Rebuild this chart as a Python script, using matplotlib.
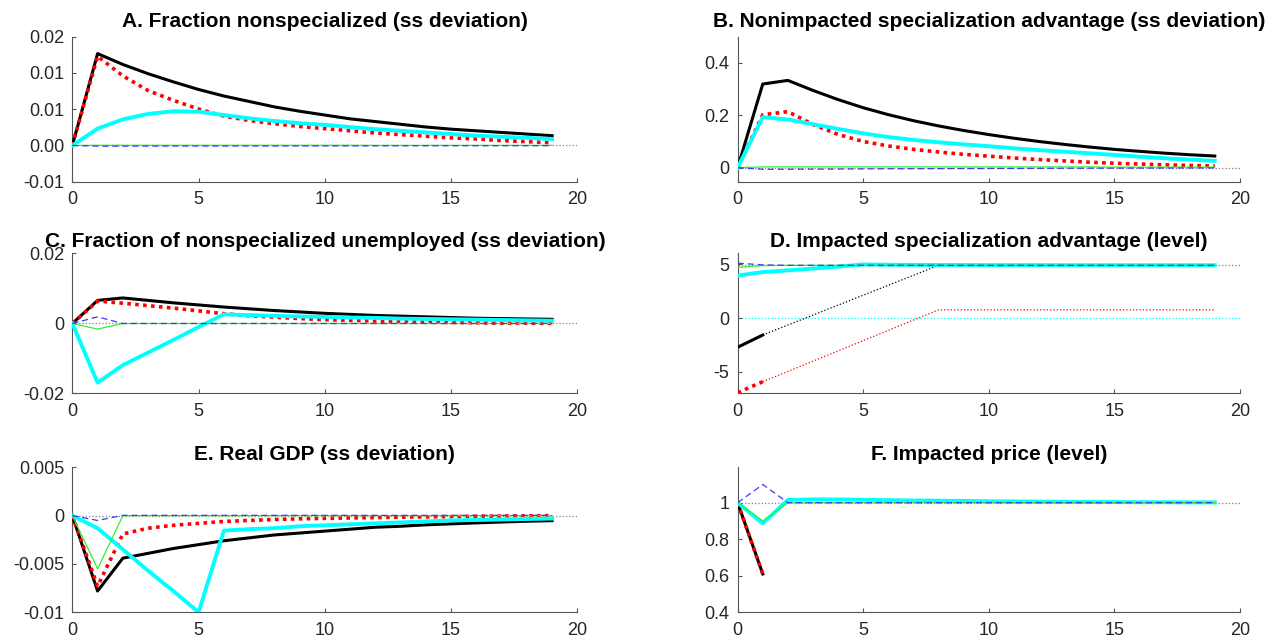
import numpy as np
import matplotlib

matplotlib.use("Agg")
import matplotlib.pyplot as plt

plt.rcParams["font.family"] = ["Liberation Sans", "DejaVu Sans"]

nan = np.nan
periods = list(range(20))

titles = [
    "A. Fraction nonspecialized (ss deviation)",
    "B. Nonimpacted specialization advantage (ss deviation)",
    "C. Fraction of nonspecialized unemployed (ss deviation)",
    "D. Impacted specialization advantage (level)",
    "E. Real GDP (ss deviation)",
    "F. Impacted price (level)",
]

# A. Fraction nonspecialized
a_black = [0, 0.0169, 0.0149, 0.0132, 0.0117, 0.0103, 0.0091, 0.0081, 0.0071, 0.0063,
           0.0056, 0.0049, 0.0044, 0.0039, 0.0034, 0.0030, 0.0027, 0.0024, 0.0021, 0.0018]
a_red = [0, 0.0164, 0.0128, 0.0101, 0.0083, 0.0067, 0.0054, 0.0046, 0.0040, 0.0035,
         0.0031, 0.0027, 0.0023, 0.0020, 0.0017, 0.0014, 0.0012, 0.0009, 0.0007, 0.0005]
a_cyan = [0, 0.0031, 0.0048, 0.0058, 0.0063, 0.0062, 0.0056, 0.0050, 0.0045, 0.0041,
          0.0038, 0.0034, 0.0030, 0.0027, 0.0024, 0.0021, 0.0018, 0.0016, 0.0014, 0.0012]
a_green = [0, 0.00003, 0.00003, 0.00003, 0.00003, 0.00003, 0.00003, 0.00003, 0.00003, 0.00003,
           0.00003, 0.00003, 0.00002, 0.00002, 0.00002, 0.00002, 0.00002, 0.00002, 0.00002, 0.00002]
a_blue = [0, -0.00012, -0.00012, -0.00011, -0.0001, -0.0001, -0.0001, -0.00009, -0.00009, -0.00008,
          -0.00008, -0.00007, -0.00007, -0.00006, -0.00006, -0.00005, -0.00005, -0.00005, -0.00004, -0.00004]

# B. Nonimpacted specialization advantage
b_black = [0, 0.3195, 0.3333, 0.2950, 0.2600, 0.2290, 0.2025, 0.1795, 0.1595, 0.1420,
           0.1265, 0.1125, 0.1000, 0.0890, 0.0790, 0.0700, 0.0625, 0.0555, 0.0495, 0.0445]
b_red = [0, 0.202, 0.214, 0.165, 0.127, 0.100, 0.083, 0.070, 0.060, 0.051,
         0.044, 0.037, 0.031, 0.026, 0.021, 0.017, 0.014, 0.011, 0.0085, 0.0065]
b_cyan = [0, 0.193, 0.184, 0.166, 0.148, 0.131, 0.117, 0.106, 0.097, 0.089,
          0.082, 0.074, 0.067, 0.061, 0.055, 0.049, 0.042, 0.036, 0.031, 0.026]
b_green = [0, 0.003, 0.003, 0.003, 0.003, 0.003, 0.003, 0.003, 0.003, 0.003,
           0.003, 0.003, 0.003, 0.003, 0.003, 0.002, 0.002, 0.002, 0.002, 0.002]
b_blue = [0, -0.006, -0.006, -0.0055, -0.005, -0.0045, -0.004, -0.0038, -0.0035, -0.0032,
          -0.003, -0.0028, -0.0025, -0.0022, -0.002, -0.0018, -0.0016, -0.0014, -0.0012, -0.001]

# C. Fraction of nonspecialized unemployed
c_black = [0, 0.0066, 0.0073, 0.0066, 0.0059, 0.0053, 0.0047, 0.0042, 0.0037, 0.0033,
           0.0029, 0.0026, 0.0023, 0.0021, 0.0019, 0.0017, 0.0015, 0.0014, 0.0013, 0.0012]
c_red = [0, 0.0064, 0.0058, 0.0051, 0.0044, 0.0036, 0.0028, 0.0022, 0.0018, 0.0014,
         0.0011, 0.0009, 0.0007, 0.0005, 0.0004, 0.0003, 0.0002, 0.0001, 0.0001, 0.0]
c_cyan = [0, -0.0169, -0.0119, -0.0083, -0.0047, -0.0010, 0.0026, 0.0024, 0.0022, 0.0020,
          0.0019, 0.0017, 0.0016, 0.0014, 0.0013, 0.0012, 0.0011, 0.0010, 0.0009, 0.0008]
c_green = [0, -0.0016, 0, 0, 0, 0, 0, 0, 0, 0, 0, 0, 0, 0, 0, 0, 0, 0, 0, 0]
c_blue = [0, 0.0019, 0, 0, 0, 0, 0, 0, 0, 0, 0, 0, 0, 0, 0, 0, 0, 0, 0, 0]

# D. Impacted specialization advantage (level)
d_black = [-2.70, -1.56] + [nan] * 18
d_black_dot = [nan, -1.56, -0.63, 0.29, 1.22, 2.14, 3.07, 3.99, 4.92, 4.92,
               4.92, 4.92, 4.92, 4.92, 4.92, 4.92, 4.92, 4.92, 4.92, 4.92]
d_red = [-6.93, -5.90] + [nan] * 18
d_red_dot = [nan, -5.90, -4.95, -3.99, -3.04, -2.08, -1.13, -0.17, 0.78, 0.78,
             0.78, 0.78, 0.78, 0.78, 0.78, 0.78, 0.78, 0.78, 0.78, 0.78]
d_cyan = [3.97, 4.29, 4.45, 4.62, 4.80, 5.00, 4.97, 4.96, 4.95, 4.95,
          4.94, 4.94, 4.94, 4.93, 4.93, 4.93, 4.93, 4.93, 4.93, 4.93]
d_green = [4.72, 4.90, 4.92, 4.92, 4.92, 4.92, 4.92, 4.92, 4.92, 4.92,
           4.92, 4.92, 4.92, 4.92, 4.92, 4.92, 4.92, 4.92, 4.92, 4.92]
d_blue = [5.12, 4.96, 4.92, 4.92, 4.92, 4.92, 4.92, 4.92, 4.92, 4.92,
          4.92, 4.92, 4.92, 4.92, 4.92, 4.92, 4.92, 4.92, 4.92, 4.92]
d_ss_level = 4.92
d_cyan_ref = 0.0

# E. Real GDP
e_black = [0, -0.0078, -0.0044, -0.0039, -0.0034, -0.0030, -0.0026, -0.0023, -0.0020, -0.0018,
           -0.0016, -0.0014, -0.0012, -0.0011, -0.00095, -0.00085, -0.00075, -0.00066, -0.00058, -0.00052]
e_red = [0, -0.0073, -0.0019, -0.0013, -0.0010, -0.0008, -0.0006, -0.0005, -0.0004, -0.00033,
         -0.00028, -0.00024, -0.0002, -0.00016, -0.00013, -0.0001, -0.00007, -0.00004, -0.00002, 0.0]
e_cyan = [0, -0.0013, -0.0035, -0.0057, -0.0078, -0.0100, -0.00155, -0.0014, -0.0013, -0.0011,
          -0.0010, -0.0009, -0.0008, -0.0007, -0.0006, -0.0005, -0.00045, -0.0004, -0.00035, -0.0003]
e_green = [0, -0.0055, 0, 0, 0, 0, 0, 0, 0, 0, 0, 0, 0, 0, 0, 0, 0, 0, 0, 0]
e_blue = [0, -0.0005, 0.00003, 0.00003, 0.00003, 0.00003, 0.00003, 0.00003, 0.00003, 0.00003,
          0.00003, 0.00003, 0.00003, 0.00003, 0.00003, 0.00003, 0.00003, 0.00003, 0.00003, 0.00003]

# F. Impacted price (level)
f_black = [1.0, 0.61] + [nan] * 18
f_red = [1.0, 0.61] + [nan] * 18
f_cyan = [1.0, 0.887, 1.015, 1.018, 1.018, 1.016, 1.014, 1.012, 1.011, 1.010,
          1.008, 1.007, 1.006, 1.005, 1.004, 1.004, 1.003, 1.003, 1.002, 1.002]
f_green = [1.0, 0.90] + [1.0] * 18
f_blue = [1.0, 1.10] + [1.0] * 18

panels = [
    dict(black=a_black, red=a_red, cyan=a_cyan, green=a_green, blue=a_blue, ss=0.0,
         ylim=(-0.02 / 3, 0.02), yticks=[-0.02 / 3, 0, 0.02 / 3, 0.04 / 3, 0.02],
         ylabels=["-0.01", "0.00", "0.01", "0.01", "0.02"]),
    dict(black=b_black, red=b_red, cyan=b_cyan, green=b_green, blue=b_blue, ss=0.0,
         ylim=(-0.0536, 0.5), yticks=[0, 0.2, 0.4], ylabels=["0", "0.2", "0.4"]),
    dict(black=c_black, red=c_red, cyan=c_cyan, green=c_green, blue=c_blue, ss=0.0,
         ylim=(-0.02, 0.02), yticks=[-0.02, 0, 0.02], ylabels=["-0.02", "0", "0.02"]),
    dict(black=d_black, red=d_red, cyan=d_cyan, green=d_green, blue=d_blue, ss=d_ss_level,
         ylim=(-7, 6.02), yticks=[-5, 0, 5], ylabels=["-5", "0", "5"]),
    dict(black=e_black, red=e_red, cyan=e_cyan, green=e_green, blue=e_blue, ss=0.0,
         ylim=(-0.01, 0.005), yticks=[-0.01, -0.005, 0, 0.005],
         ylabels=["-0.01", "-0.005", "0", "0.005"]),
    dict(black=f_black, red=f_red, cyan=f_cyan, green=f_green, blue=f_blue, ss=1.0,
         ylim=(0.4, 1.194), yticks=[0.4, 0.6, 0.8, 1.0], ylabels=["0.4", "0.6", "0.8", "1"]),
]

# axes boxes in figure fractions (left, bottom, width, height)
col_x = [(0.0571, 0.3986), (0.5822, 0.3964)]
row_y = [(0.7156, 0.2269), (0.3842, 0.2191), (0.0418, 0.2269)]
row_pad = [7, 5, 5]

fig = plt.figure(figsize=(12.67, 6.39), dpi=100)
axis_color = "#555555"
text_color = "#262626"

for i, p in enumerate(panels):
    left, width = col_x[i % 2]
    bottom, height = row_y[i // 2]
    ax = fig.add_axes([left, bottom, width, height])

    ax.plot([0, 20], [p["ss"], p["ss"]], color="#808080", lw=0.9, ls=":", zorder=1)
    if i == 3:
        ax.plot([0, 20], [d_cyan_ref, d_cyan_ref], color="cyan", lw=0.9, ls=":", zorder=1)
        ax.plot(periods, d_black_dot, color="black", lw=0.9, ls=":", zorder=2)
        ax.plot(periods, d_red_dot, color="red", lw=0.9, ls=":", zorder=2)

    ax.plot(periods, p["black"], color="black", lw=2.2, zorder=3)
    ax.plot(periods, p["red"], color="red", lw=2.6, ls=(0, (1, 1.2)), zorder=4)
    ax.plot(periods, p["cyan"], color="cyan", lw=2.8, zorder=5)
    ax.plot(periods, p["green"], color="#33ee33", lw=0.9, zorder=6)
    ax.plot(periods, p["blue"], color="#3a3aff", lw=0.9, ls=(0, (5, 3)), zorder=7)

    ax.set_xlim(0, 20)
    ax.set_ylim(*p["ylim"])
    ax.set_xticks([0, 5, 10, 15, 20])
    ax.set_yticks(p["yticks"])
    ax.set_yticklabels(p["ylabels"])
    ax.spines["top"].set_visible(False)
    ax.spines["right"].set_visible(False)
    for side in ("left", "bottom"):
        ax.spines[side].set_color(axis_color)
        ax.spines[side].set_linewidth(0.8)
    ax.tick_params(direction="in", length=3, width=0.8, color=axis_color,
                   labelsize=13, labelcolor=text_color, pad=6)
    ax.tick_params(axis="x", pad=7)
    ax.set_title(titles[i], fontsize=15, fontweight="bold", pad=row_pad[i // 2])

fig.savefig("out.png", dpi=100)
